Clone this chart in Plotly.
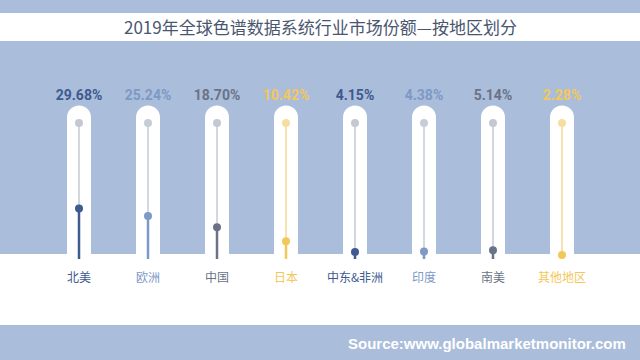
import plotly.graph_objects as go

categories = ["北美", "欧洲", "中国", "日本", "中东&非洲", "印度", "南美", "其他地区"]
shares = [29.68, 25.24, 18.70, 10.42, 4.15, 4.38, 5.14, 2.28]
share_labels = ["29.68%", "25.24%", "18.70%", "10.42%", "4.15%", "4.38%", "5.14%", "2.28%"]

title = "2019年全球色谱数据系统行业市场份额—按地区划分"
source = "Source:www.globalmarketmonitor.com"

BG = "#AABDDB"
palette = ["#3E5A8F", "#7D99C6", "#6A7386", "#F3C75A"]
top_line = ["#D3D7DF", "#D3D7DF", "#D3D7DF", "#F7E3AE"]
top_dot = ["#C3C8D3", "#C6CCD8", "#C3C8D3", "#F6DDA0"]

PX = 1.7            # pixels per axis unit (figure is 360px high)
Y_ZERO_PX = 259     # pixel row of value 0
TOP_DOT = 80        # decorative top dot (axis units)
LABEL_Y = 95.3
CAT_Y = -11.5
STEP = 69.0
X0_PX = 79.0

xr = [-X0_PX / STEP, (640 - X0_PX) / STEP]
yr = [-(360 - Y_ZERO_PX) / PX, Y_ZERO_PX / PX]

fig = go.Figure()
xs = list(range(len(categories)))

shapes = [
    dict(type="rect", xref="paper", yref="paper", x0=0, x1=1, y0=1 - 41 / 360, y1=1 - 13 / 360,
         fillcolor="white", line_width=0, layer="below"),
    dict(type="rect", xref="paper", yref="paper", x0=0, x1=1, y0=1 - 325 / 360, y1=1 - 254 / 360,
         fillcolor="white", line_width=0, layer="below"),
]
pill_bottom = -(254 - Y_ZERO_PX) / PX
cap_center = (Y_ZERO_PX - 117.5) / PX
for i in xs:
    shapes.append(dict(type="rect", xref="x", yref="y", xsizemode="pixel", xanchor=i,
                       x0=-12, x1=12, y0=pill_bottom, y1=cap_center,
                       fillcolor="white", line_width=0, layer="below"))
    shapes.append(dict(type="circle", xref="x", yref="y", xsizemode="pixel", ysizemode="pixel",
                       xanchor=i, yanchor=cap_center, x0=-12, x1=12, y0=-12, y1=12,
                       fillcolor="white", line_width=0, layer="below"))

line_bottom = 0
for i, (c, v) in enumerate(zip(categories, shares)):
    col = palette[i % 4]
    fig.add_trace(go.Scatter(x=[i, i], y=[v, TOP_DOT], mode="lines",
                             line=dict(color=top_line[i % 4], width=2), hoverinfo="skip"))
    fig.add_trace(go.Scatter(x=[i], y=[TOP_DOT], mode="markers",
                             marker=dict(color=top_dot[i % 4], size=8), hoverinfo="skip"))
    fig.add_trace(go.Scatter(x=[i, i], y=[line_bottom, v], mode="lines",
                             line=dict(color=col, width=2.5), hoverinfo="skip"))
    fig.add_trace(go.Scatter(x=[i], y=[v], mode="markers",
                             marker=dict(color=col, size=8), hoverinfo="skip"))

colors = [palette[i % 4] for i in xs]
fig.add_trace(go.Scatter(x=xs, y=[LABEL_Y] * len(xs), mode="text", text=share_labels,
                         textfont=dict(family="Roboto", size=14, color=colors, weight="bold"),
                         hoverinfo="skip"))
fig.add_trace(go.Scatter(x=xs, y=[CAT_Y] * len(xs), mode="text", text=categories,
                         textfont=dict(family="Noto Sans CJK SC", size=12, color=colors),
                         hoverinfo="skip"))

fig.update_layout(
    width=640, height=360,
    margin=dict(l=0, r=0, t=0, b=0),
    paper_bgcolor=BG, plot_bgcolor="rgba(0,0,0,0)",
    showlegend=False,
    shapes=shapes,
    xaxis=dict(range=xr, visible=False, fixedrange=True),
    yaxis=dict(range=yr, visible=False, fixedrange=True),
    annotations=[
        dict(text=title, xref="paper", yref="paper", x=0.5, y=1 - 27 / 360,
             xanchor="center", yanchor="middle", showarrow=False,
             font=dict(family="Noto Sans CJK SC", size=17, color="#4A5670")),
        dict(text=source, xref="paper", yref="paper", x=628 / 640, y=1 - 343 / 360,
             xanchor="right", yanchor="middle", showarrow=False,
             font=dict(family="Liberation Sans, Arial", size=15, color="white", weight="bold")),
    ],
)

fig.write_html("out.html", config={"displayModeBar": False},
               post_script="document.body.style.margin='0';document.body.style.overflow='hidden';")
